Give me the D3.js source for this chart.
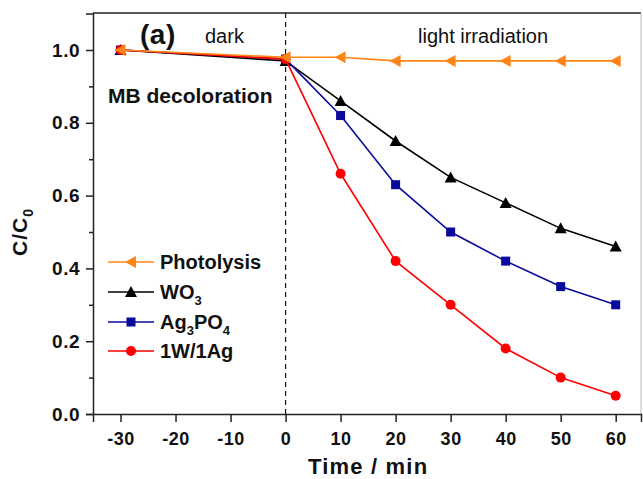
<!DOCTYPE html>
<html><head><meta charset="utf-8">
<script src="https://cdn.jsdelivr.net/npm/d3@7"></script>
<style>body{margin:0;background:#fff}svg{display:block;font-family:"Liberation Sans",Arial,sans-serif}</style>
</head><body>
<svg id="c" width="643" height="479"></svg>
<script>
const times = [-30, 0, 10, 20, 30, 40, 50, 60];
const photolysis = [1.0, 0.98, 0.98, 0.97, 0.97, 0.97, 0.97, 0.97];
const wo3 = [1.0, 0.97, 0.86, 0.75, 0.65, 0.58, 0.51, 0.46];
const ag3po4 = [1.0, 0.975, 0.82, 0.63, 0.50, 0.42, 0.35, 0.30];
const w1ag1 = [1.0, 0.975, 0.66, 0.42, 0.30, 0.18, 0.10, 0.05];
const xTicks = [-30, -20, -10, 0, 10, 20, 30, 40, 50, 60];
const yTicks = [0, 0.2, 0.4, 0.6, 0.8, 1.0];
const yMinor = [0.1, 0.3, 0.5, 0.7, 0.9];

const svg = d3.select("#c");
const L = 93, R = 641, T = 13, B = 414;
const x = d3.scaleLinear().domain([-35, 64.6]).range([L, R]);
const y = d3.scaleLinear().domain([0, 1.1]).range([B, B - 1.1 * 364]);

// frame
svg.append("line").attr("x1", L).attr("x2", R).attr("y1", T).attr("y2", T).attr("stroke", "#222").attr("stroke-width", 1.5);
svg.append("line").attr("x1", R).attr("x2", R).attr("y1", T).attr("y2", B).attr("stroke", "#bbb").attr("stroke-width", 1);

// axes
const xa = svg.append("g").attr("transform", `translate(0,${B})`)
  .call(d3.axisBottom(x).tickValues(xTicks).tickSize(8).tickPadding(10).tickFormat(d => String(d)));
const ya = svg.append("g").attr("transform", `translate(${L},0)`)
  .call(d3.axisLeft(y).tickValues(yTicks).tickSize(7).tickPadding(6).tickFormat(d3.format(".1f")));
svg.append("g").attr("transform", `translate(${L},0)`)
  .call(d3.axisLeft(y).tickValues(yMinor).tickSize(4).tickFormat(""))
  .call(g => g.select(".domain").remove());
[xa, ya].forEach(g => {
  g.select(".domain").attr("stroke", "#222").attr("stroke-width", 1.5);
  g.selectAll("text").attr("font-weight", "bold").attr("fill", "#111");
});
xa.selectAll("text").attr("font-size", 18).attr("letter-spacing", 0.5);
ya.selectAll("text").attr("font-size", 19).attr("letter-spacing", 0.5);
svg.selectAll(".tick line").attr("stroke", "#222").attr("stroke-width", 1.5);

// dashed line at 0
svg.append("line").attr("x1", x(0)).attr("x2", x(0)).attr("y1", T).attr("y2", B)
  .attr("stroke", "#111").attr("stroke-width", 1.2).attr("stroke-dasharray", "5,4");

// axis titles
svg.append("text").attr("x", x(15)).attr("y", 474).attr("text-anchor", "middle")
  .attr("font-size", 22).attr("font-weight", "bold").attr("letter-spacing", 1.2).attr("fill", "#111").text("Time / min");
const yl = svg.append("text").attr("transform", "translate(27,232) rotate(-90)").attr("text-anchor", "middle")
  .attr("font-size", 21).attr("font-weight", "bold").attr("letter-spacing", 1).attr("fill", "#111");
yl.append("tspan").text("C/C");
yl.append("tspan").attr("font-size", 14).attr("dy", 6).text("0");

// annotations
svg.append("text").attr("x", 140).attr("y", 44).attr("font-size", 28).attr("font-weight", "bold").attr("letter-spacing", 0.5).attr("fill", "#111").text("(a)");
svg.append("text").attr("x", 205).attr("y", 43).attr("font-size", 20).attr("fill", "#111").text("dark");
svg.append("text").attr("x", 418).attr("y", 43).attr("font-size", 20).attr("fill", "#111").text("light irradiation");
svg.append("text").attr("x", 108).attr("y", 103).attr("font-size", 21).attr("font-weight", "bold").attr("fill", "#111").text("MB decoloration");

const series = [
  {name: "WO3", vals: wo3, color: "#000000", marker: "tri"},
  {name: "Ag3PO4", vals: ag3po4, color: "#0a0a9c", marker: "sq"},
  {name: "1W/1Ag", vals: w1ag1, color: "#ff0000", marker: "circ"},
  {name: "Photolysis", vals: photolysis, color: "#ff8414", marker: "ltri"}
];

function drawMarker(g, type, cx, cy, color) {
  if (type === "tri") g.append("path").attr("d", `M${cx},${cy-6}L${cx+6},${cy+5}L${cx-6},${cy+5}Z`).attr("fill", color);
  else if (type === "ltri") g.append("path").attr("d", `M${cx-6},${cy}L${cx+5},${cy-6}L${cx+5},${cy+6}Z`).attr("fill", color);
  else if (type === "sq") g.append("rect").attr("x", cx-4.5).attr("y", cy-4.5).attr("width", 9).attr("height", 9).attr("fill", color);
  else g.append("circle").attr("cx", cx).attr("cy", cy).attr("r", 5).attr("fill", color);
}

const line = d3.line().x(d => x(d[0])).y(d => y(d[1]));
series.forEach(s => {
  const pts = times.map((t, i) => [t, s.vals[i]]);
  const g = svg.append("g");
  g.append("path").attr("d", line(pts)).attr("fill", "none").attr("stroke", s.color).attr("stroke-width", 1.6);
  pts.forEach(p => drawMarker(g, s.marker, x(p[0]), y(p[1]), s.color));
});

// legend
const legend = [
  {label: ["Photolysis"], color: "#ff8414", marker: "ltri", y: 262},
  {label: ["WO", "3"], color: "#000000", marker: "tri", y: 292},
  {label: ["Ag", "3", "PO", "4"], color: "#0a0a9c", marker: "sq", y: 322},
  {label: ["1W/1Ag"], color: "#ff0000", marker: "circ", y: 351}
];
legend.forEach(l => {
  const g = svg.append("g");
  g.append("line").attr("x1", 108).attr("x2", 154).attr("y1", l.y).attr("y2", l.y).attr("stroke", l.color).attr("stroke-width", 1.6);
  drawMarker(g, l.marker, 131, l.y, l.color);
  const t = g.append("text").attr("x", 160).attr("y", l.y + 7).attr("font-size", 20).attr("font-weight", "bold").attr("fill", "#111");
  l.label.forEach((part, i) => {
    const sub = i % 2 === 1;
    t.append("tspan").attr("font-size", sub ? 13 : 20).attr("dy", sub ? 6 : (i > 0 ? -6 : 0)).text(part);
  });
});
</script>
</body></html>
